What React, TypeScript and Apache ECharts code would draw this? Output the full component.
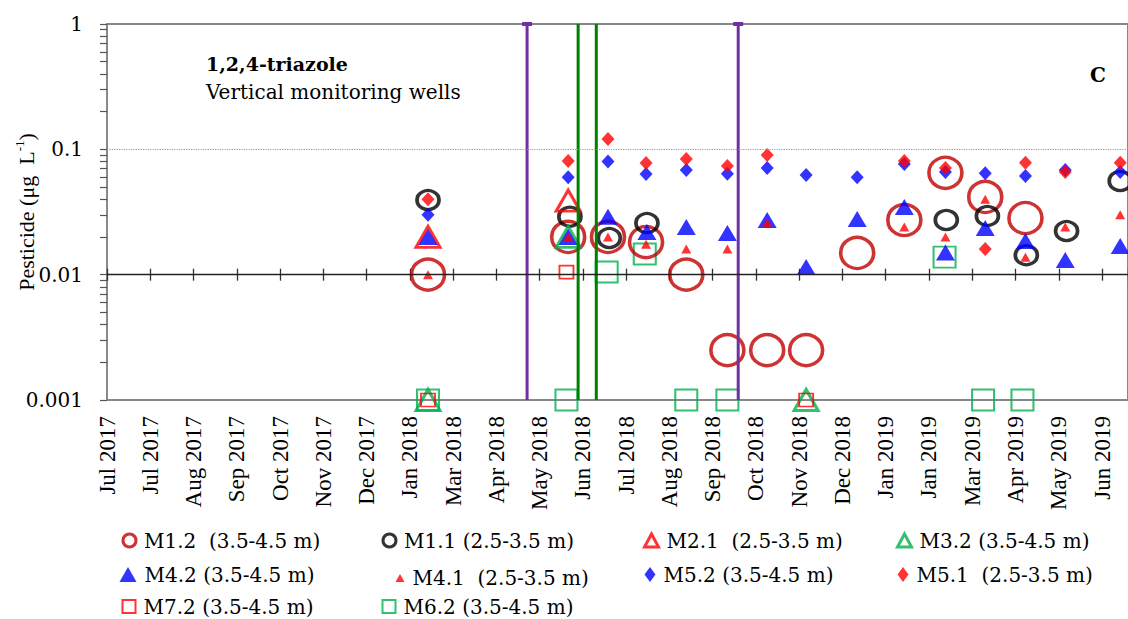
import React, { useEffect, useRef } from 'react';
import * as echarts from 'echarts';

// X axis: one label per tick (axis units = tick index)
const xTickLabels = [
  'Jul 2017', 'Jul 2017', 'Aug 2017', 'Sep 2017', 'Oct 2017', 'Nov 2017', 'Dec 2017', 'Jan 2018',
  'Mar 2018', 'Apr 2018', 'May 2018', 'Jun 2018', 'Jul 2018', 'Aug 2018', 'Sep 2018', 'Oct 2018',
  'Nov 2018', 'Dec 2018', 'Jan 2019', 'Jan 2019', 'Mar 2019', 'Apr 2019', 'May 2019', 'Jun 2019',
];
const xMax = 23.6;

// Y axis (log)
const yLabelValues = [0.001, 0.01, 0.1, 1];
const yDecades = [0.001, 0.01, 0.1];
const yMinorMultipliers = [1, 2, 3, 4, 5, 6, 7, 8, 9];

// Event lines (x in tick units)
const purpleLines = [9.71, 14.59];
const greenLines = [10.89, 11.31];

// Series names
const nM12 = 'M1.2  (3.5-4.5 m)';
const nM11 = 'M1.1 (2.5-3.5 m)';
const nM21 = 'M2.1  (2.5-3.5 m)';
const nM32 = 'M3.2 (3.5-4.5 m)';
const nM42 = 'M4.2 (3.5-4.5 m)';
const nM41 = 'M4.1  (2.5-3.5 m)';
const nM52 = 'M5.2 (3.5-4.5 m)';
const nM51 = 'M5.1  (2.5-3.5 m)';
const nM72 = 'M7.2 (3.5-4.5 m)';
const nM62 = 'M6.2 (3.5-4.5 m)';

// Data: [time (tick units), concentration µg/L]
const M12 = [[7.42, 0.01], [10.66, 0.02], [11.58, 0.02], [12.46, 0.0182], [13.39, 0.01], [14.34, 0.0025], [15.26, 0.0025], [16.16, 0.0025], [17.34, 0.0149], [18.43, 0.0273], [19.38, 0.065], [20.3, 0.0417], [21.23, 0.0283]];
const M11 = [[7.42, 0.0394], [10.7, 0.029], [11.61, 0.0196], [12.48, 0.0258], [19.4, 0.0273], [20.35, 0.0294], [21.25, 0.0143], [22.18, 0.0223], [23.42, 0.0559]];
const M21 = [[7.42, 0.02], [10.66, 0.039]];
const M32 = [[7.42, 0.001], [10.66, 0.02], [16.16, 0.001]];
const M42 = [[7.42, 0.02], [10.66, 0.02], [11.58, 0.029], [12.48, 0.0219], [13.39, 0.024], [14.34, 0.0215], [15.26, 0.0273], [16.16, 0.0115], [17.34, 0.0278], [18.43, 0.0347], [19.38, 0.015], [20.3, 0.0236], [21.23, 0.0186], [22.15, 0.0131], [23.42, 0.0169]];
const M41 = [[7.42, 0.01], [10.66, 0.02], [11.58, 0.02], [12.46, 0.0175], [13.39, 0.016], [14.34, 0.016], [15.26, 0.026], [18.43, 0.024], [19.38, 0.02], [20.3, 0.04], [21.23, 0.0138], [22.15, 0.024], [23.42, 0.03]];
const M52 = [[7.42, 0.03], [10.66, 0.06], [11.58, 0.08], [12.46, 0.0636], [13.39, 0.0684], [14.34, 0.064], [15.26, 0.071], [16.16, 0.0624], [17.34, 0.06], [18.43, 0.0764], [19.38, 0.066], [20.3, 0.0645], [21.23, 0.0612], [22.15, 0.0684], [23.42, 0.066]];
const M51 = [[7.42, 0.04], [10.66, 0.0807], [11.58, 0.121], [12.46, 0.0778], [13.39, 0.0837], [14.34, 0.0736], [15.26, 0.09], [18.43, 0.0807], [19.38, 0.071], [20.3, 0.016], [21.23, 0.078], [22.15, 0.066], [23.42, 0.078]];
const M72 = [[7.42, 0.001], [10.62, 0.0105], [16.16, 0.001]];
const M62 = [[7.42, 0.001], [10.62, 0.001], [11.55, 0.0105], [12.43, 0.0146], [13.39, 0.001], [14.34, 0.001], [19.36, 0.0138], [20.25, 0.001], [21.16, 0.001]];

const legendOrder = [nM12, nM11, nM21, nM32, nM42, nM41, nM52, nM51, nM72, nM62];

const serif = 'Liberation Serif';
const wideSerif = 'DejaVu Serif';

function fmtY(v: number) {
  return String(Number(Number(v).toPrecision(1)));
}
function fmtX(v: number) {
  const r = Math.round(v);
  if (Math.abs(v - r) > 1e-6) return '';
  return xTickLabels[r] ?? '';
}

function scatter(name: string, data: number[][], symbol: string, size: number[], color: string, hollow: boolean, bw: number) {
  return {
    type: 'scatter',
    name,
    data,
    symbol,
    symbolSize: size,
    clip: false,
    itemStyle: hollow
      ? { color: 'rgba(0,0,0,0)', borderColor: color, borderWidth: bw }
      : { color, borderWidth: 0 },
    emphasis: { disabled: true },
  };
}

function vline(t: number, color: string, cap: boolean) {
  return {
    type: 'line',
    data: [
      { value: [t, 0.001], symbol: 'none' },
      { value: [t, 1], symbol: cap ? 'rect' : 'none', symbolSize: [10, 4], itemStyle: { color } },
    ],
    showSymbol: true,
    lineStyle: { color, width: 3 },
    itemStyle: { color },
    silent: true,
    animation: false,
    emphasis: { disabled: true },
  };
}

export default function App() {
  const ref = useRef<HTMLDivElement>(null);
  useEffect(() => {
    if (!ref.current) return;
    const chart = echarts.init(ref.current, null, { renderer: 'svg' });

    const yTicks: number[] = [];
    yDecades.forEach((d) => yMinorMultipliers.forEach((m) => yTicks.push(Number((d * m).toPrecision(2)))));
    yTicks.push(1);

    // legend layout
    const colCenters = [128, 388, 650, 903];
    const rowCenters = [537, 572, 603];
    const iconStyle: Record<string, { w: number; h: number; bw: number; dx?: number }> = {
      [nM12]: { w: 13, h: 13, bw: 3 },
      [nM11]: { w: 13, h: 13, bw: 3 },
      [nM21]: { w: 14, h: 13, bw: 3 },
      [nM32]: { w: 14, h: 13, bw: 3 },
      [nM42]: { w: 17, h: 15, bw: 0 },
      [nM41]: { w: 9, h: 8, bw: 0, dx: 12 },
      [nM52]: { w: 11, h: 15, bw: 0 },
      [nM51]: { w: 11, h: 15, bw: 0 },
      [nM72]: { w: 13, h: 13, bw: 2 },
      [nM62]: { w: 13, h: 13, bw: 2 },
    };
    const legends = legendOrder.map((name, i) => {
      const s = iconStyle[name];
      const cx = colCenters[i % 4] + (s.dx || 0);
      const cy = rowCenters[Math.floor(i / 4)];
      return {
        show: true,
        left: cx - s.w / 2,
        top: cy - s.h / 2,
        padding: 0,
        itemGap: 0,
        itemWidth: s.w,
        itemHeight: s.h,
        selectedMode: false,
        data: [name],
        itemStyle: s.bw > 0 ? { borderWidth: s.bw } : {},
        textStyle: { fontFamily: wideSerif, fontSize: 20, color: '#000', lineHeight: 20, padding: [0, 0, 0, 3] },
      };
    });

    const option: any = {
      animation: false,
      backgroundColor: '#fff',
      grid: {
        left: 107, top: 24, right: 0, bottom: 219,
        outerBoundsMode: 'none', containLabel: false,
        show: true, borderColor: '#888', borderWidth: 2, backgroundColor: 'transparent',
      },
      legend: legends,
      xAxis: [
        {
          type: 'value',
          min: 0,
          max: xMax,
          interval: 1,
          position: 'bottom',
          axisLine: { show: true, onZero: false, lineStyle: { color: '#888', width: 2 } },
          axisTick: { show: false },
          splitLine: { show: false },
          axisLabel: {
            rotate: 90,
            margin: 16,
            fontFamily: serif,
            fontSize: 23,
            color: '#000',
            formatter: fmtX,
            showMaxLabel: false,
            hideOverlap: false,
          },
        },
        {
          type: 'value',
          min: 0,
          max: xMax,
          interval: 1,
          position: 'top',
          offset: -(250.67 - 6),
          axisLine: { show: false },
          axisTick: { show: true, inside: true, length: 12, lineStyle: { color: '#333', width: 1.3 } },
          axisLabel: { show: false },
          splitLine: { show: false },
        },
      ],
      yAxis: {
        type: 'log',
        logBase: 10,
        min: 0.001,
        max: 1,
        axisLine: { show: true, lineStyle: { color: '#888', width: 2 } },
        axisTick: { show: true, length: 7, lineStyle: { color: '#555', width: 1.2 }, customValues: yTicks },
        minorTick: { show: false },
        splitLine: { show: false },
        axisLabel: {
          customValues: yLabelValues,
          formatter: fmtY,
          fontFamily: wideSerif,
          fontSize: 20,
          color: '#000',
          margin: 24,
        },
        name: '{t|Pesticide (μg  L}{s|-1}{t|)}',
        nameLocation: 'middle',
        nameRotate: 90,
        nameGap: 68,
        nameMoveOverlap: false,
        nameTextStyle: {
          color: '#000',
          rich: {
            t: { fontFamily: serif, fontSize: 22, color: '#000', lineHeight: 26, verticalAlign: 'middle' },
            s: { fontFamily: serif, fontSize: 13, color: '#000', lineHeight: 14, verticalAlign: 'top' },
          },
        },
      },
      graphic: [
        { type: 'text', x: 206, y: 64, style: { text: '1,2,4-triazole', fontFamily: wideSerif, fontWeight: 'bold', fontSize: 19, fill: '#000', verticalAlign: 'middle' } },
        { type: 'text', x: 206, y: 92, style: { text: 'Vertical monitoring wells', fontFamily: wideSerif, fontSize: 20, fill: '#000', verticalAlign: 'middle' } },
        { type: 'text', x: 1098, y: 75, style: { text: 'C', fontFamily: wideSerif, fontWeight: 'bold', fontSize: 20, fill: '#000', align: 'center', verticalAlign: 'middle' } },
      ],
      series: [
        {
          ...vline(purpleLines[0], '#7030A0', true),
          markLine: {
            silent: true,
            symbol: 'none',
            label: { show: false },
            emphasis: { disabled: true },
            data: [
              { yAxis: 0.1, lineStyle: { type: 'dotted', color: '#999', width: 1.2 } },
              { yAxis: 0.01, lineStyle: { type: 'solid', color: '#222', width: 1.3 } },
            ],
          },
        },
        vline(purpleLines[1], '#7030A0', true),
        vline(greenLines[0], '#008000', false),
        vline(greenLines[1], '#008000', false),
        scatter(nM62, M62, 'rect', [22, 21], '#00B050', true, 2),
        scatter(nM12, M12, 'circle', [33, 31], '#C00000', true, 3.5),
        scatter(nM11, M11, 'circle', [22, 19], '#000000', true, 3.5),
        scatter(nM21, M21, 'triangle', [24, 21], '#FF0000', true, 3),
        scatter(nM32, M32, 'triangle', [24, 21], '#00B050', true, 3),
        scatter(nM42, M42, 'triangle', [19, 16], '#0000FF', false, 0),
        scatter(nM41, M41, 'triangle', [10, 9], '#FF0000', false, 0),
        scatter(nM52, M52, 'diamond', [13, 14], '#0000FF', false, 0),
        scatter(nM51, M51, 'diamond', [13, 14], '#FF0000', false, 0),
        scatter(nM72, M72, 'rect', [14, 13], '#FF0000', true, 1.8),
      ],
    };
    chart.setOption(option);
    return () => chart.dispose();
  }, []);
  return <div ref={ref} style={{ position: 'absolute', left: 0, top: 0, width: 1128, height: 619 }} />;
}
